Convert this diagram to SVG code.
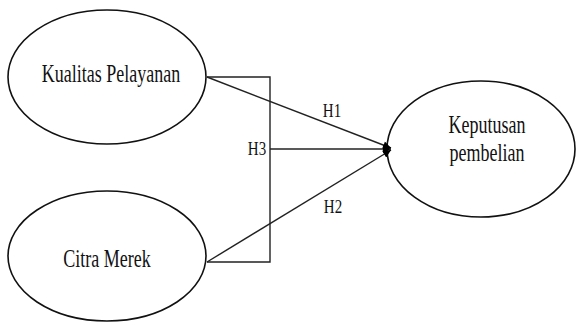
<svg xmlns="http://www.w3.org/2000/svg" width="576" height="325" viewBox="0 0 576 325">
<style>
.node{fill:#fff;stroke:#111;stroke-width:1.6}
.lbl{font-family:"Liberation Serif","Times New Roman",serif;font-size:18px;fill:#111;text-anchor:middle}
.hl{font-family:"Liberation Serif","Times New Roman",serif;font-size:15px;fill:#111;text-anchor:middle}
.conn{fill:none;stroke:#222;stroke-width:1.4}
</style>
<defs>
<marker id="arr" viewBox="0 0 10 10" refX="10" refY="5" markerWidth="9" markerHeight="8" markerUnits="userSpaceOnUse" orient="auto">
<path d="M0,0 L10,5 L0,10 z" fill="#000"/>
</marker>
</defs>
<rect width="576" height="325" fill="#fff"/>
<g id="kualitas">
<ellipse class="node" cx="107" cy="77" rx="99" ry="67"/>
<text class="lbl" transform="translate(111,82) scale(1,1.35)">Kualitas Pelayanan</text>
</g>
<g id="citra">
<ellipse class="node" cx="107" cy="256" rx="99" ry="65"/>
<text class="lbl" transform="translate(107,267) scale(1,1.35)">Citra Merek</text>
</g>
<g id="keputusan">
<ellipse class="node" cx="481" cy="149" rx="94" ry="68"/>
<text class="lbl" transform="translate(487,133) scale(1,1.35)">Keputusan</text>
<text class="lbl" transform="translate(487,161) scale(1,1.35)">pembelian</text>
</g>
<g id="connectors">
<polyline class="conn" points="207,77 270,77 270,262 207,262"/>
<line class="conn" x1="207" y1="77" x2="391" y2="148" marker-end="url(#arr)"/>
<line class="conn" x1="207" y1="262" x2="391" y2="150" marker-end="url(#arr)"/>
<line class="conn" x1="270" y1="149" x2="391" y2="149" marker-end="url(#arr)"/>
<text class="hl" transform="translate(332,117) scale(1,1.25)">H1</text>
<text class="hl" transform="translate(257,155) scale(1,1.25)">H3</text>
<text class="hl" transform="translate(333,213) scale(1,1.25)">H2</text>
</g>
</svg>
